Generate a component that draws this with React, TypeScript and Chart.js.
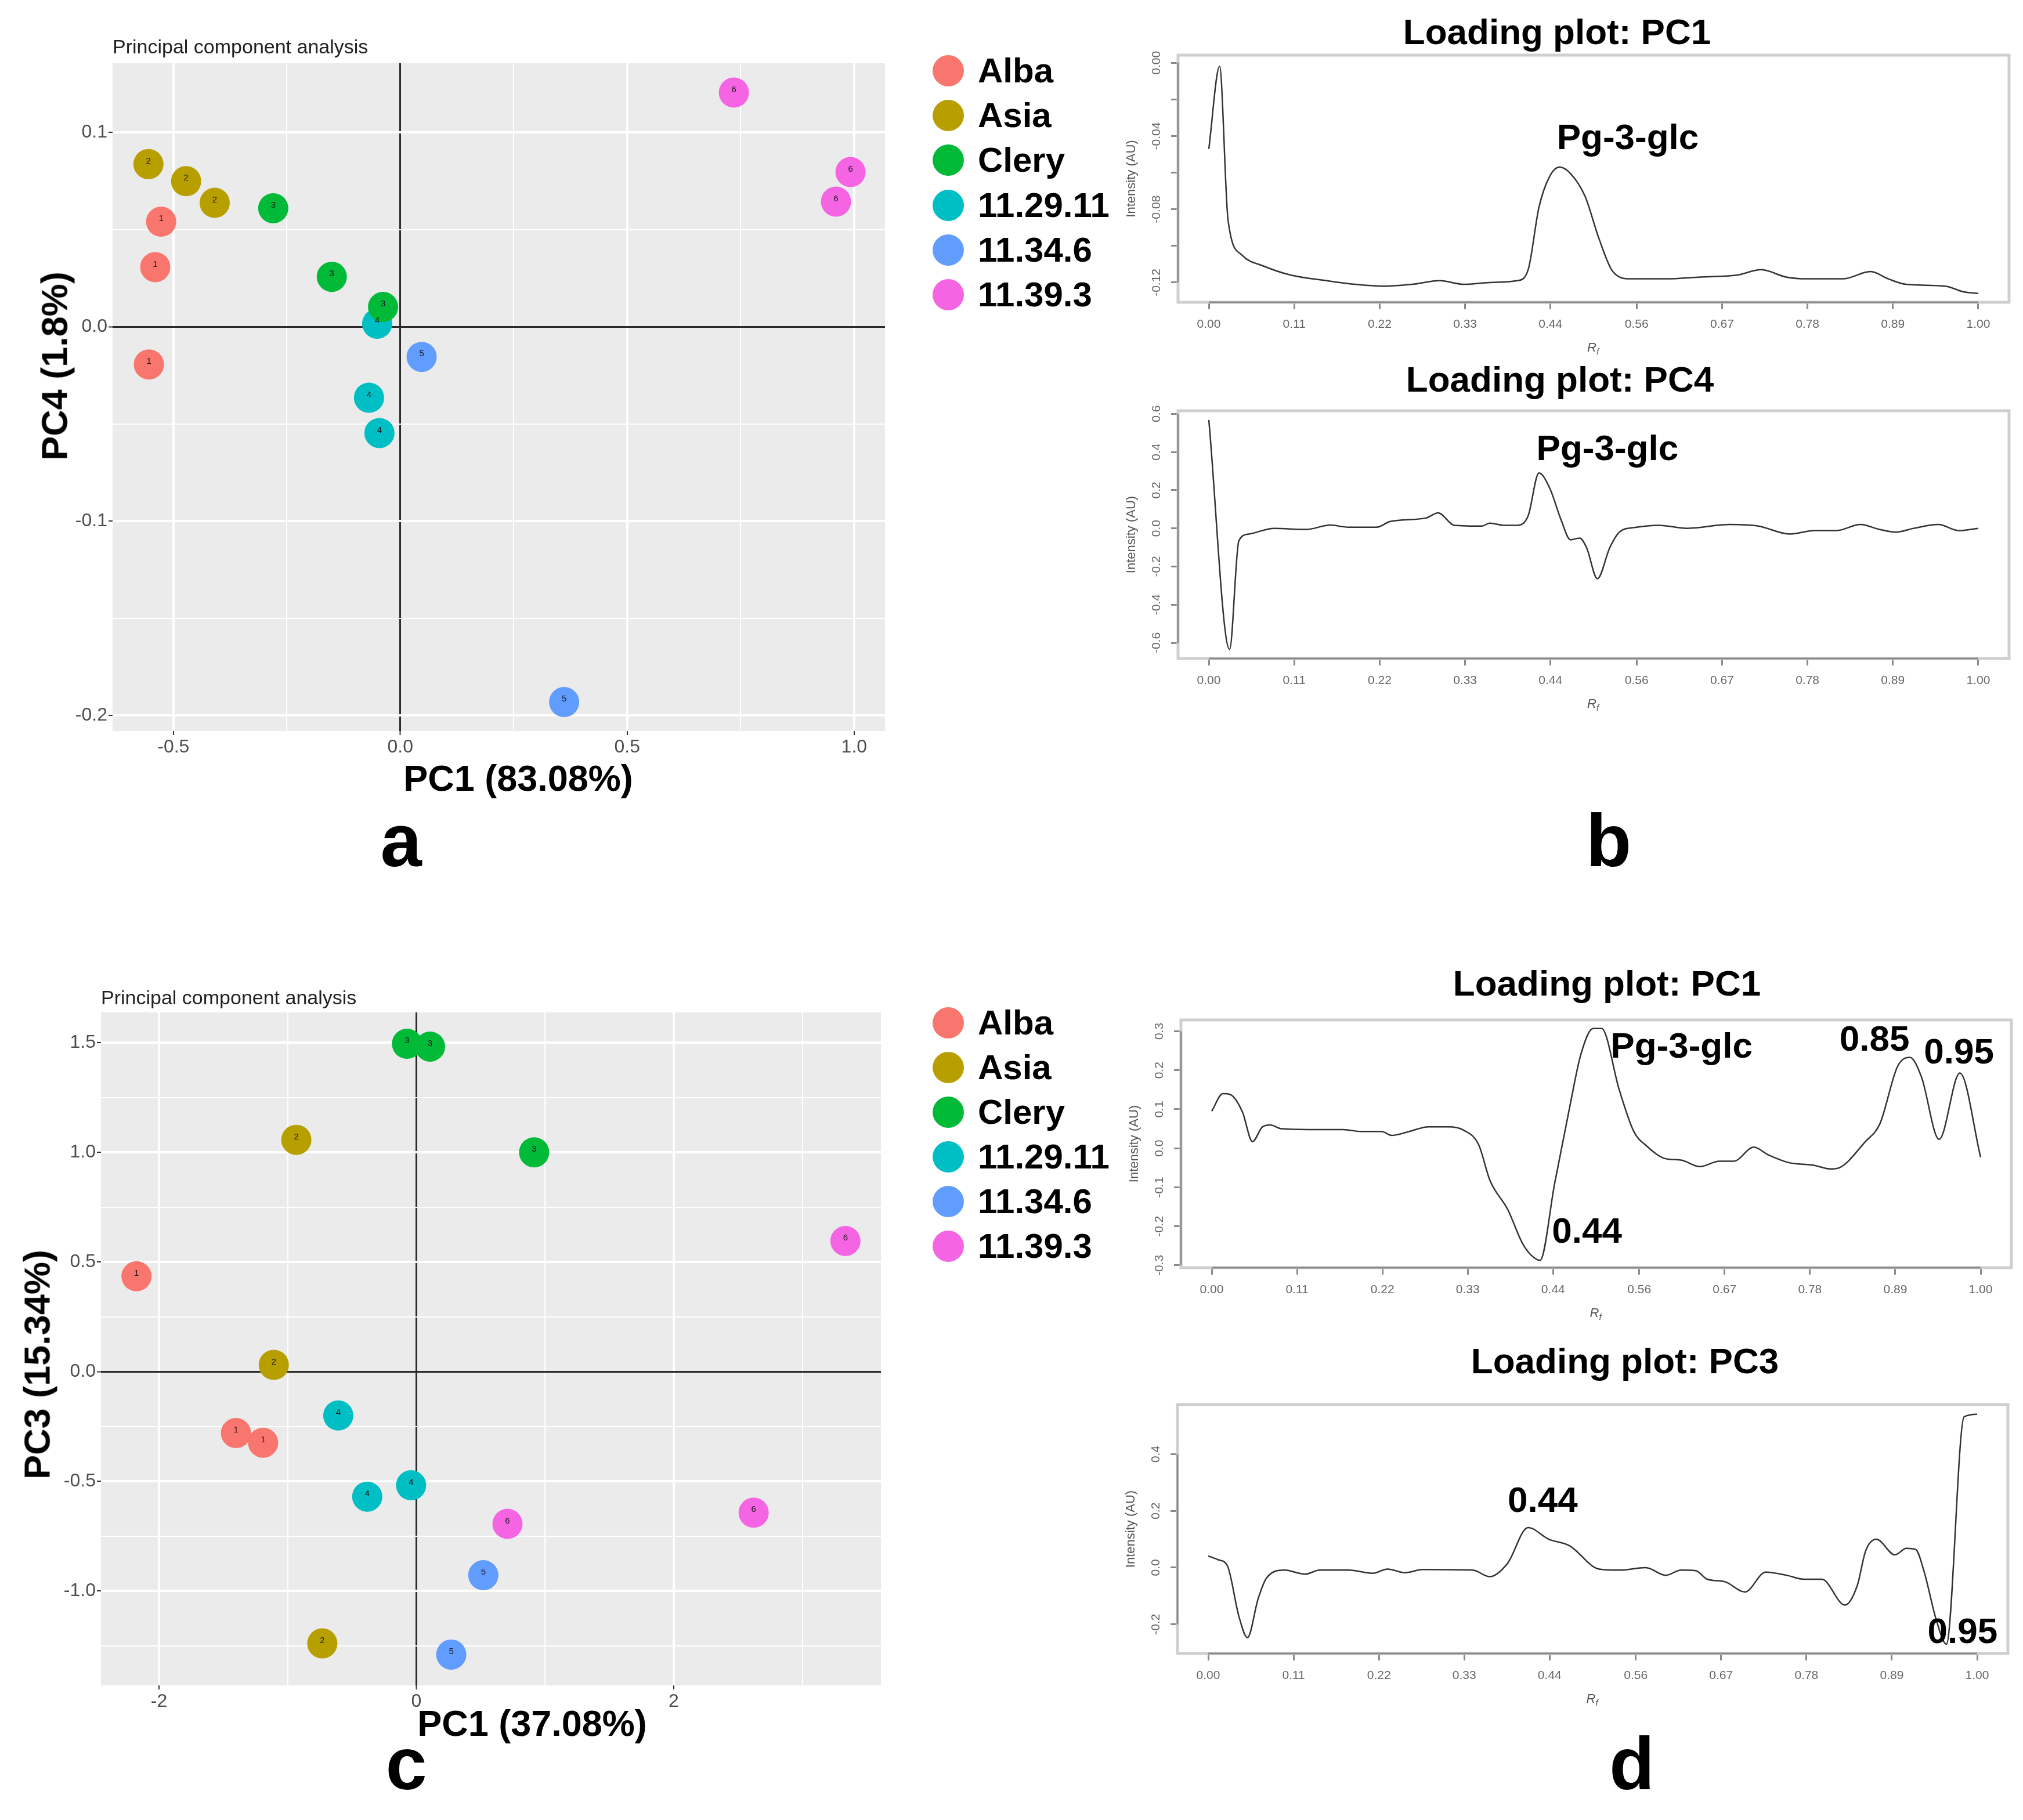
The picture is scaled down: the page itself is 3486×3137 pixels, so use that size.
import React, { useEffect, useRef } from 'react';
import { Chart, registerables } from 'chart.js';
Chart.register(...registerables);

const FONT = "'Liberation Sans', Arial, Helvetica, sans-serif";

// ---------- groups ----------
const groupNames = ['Alba', 'Asia', 'Clery', '11.29.11', '11.34.6', '11.39.3'];
const groupColors = ['#F8766D', '#B79F00', '#00BA38', '#00BFC4', '#619CFF', '#F564E3'];
const groupIds = ['1', '2', '3', '4', '5', '6'];

// ---------- panel a: PCA scores PC1 vs PC4 ----------
const scoresA_PC1 = [
  [-0.540, -0.527, -0.554],
  [-0.555, -0.472, -0.409],
  [-0.280, -0.151, -0.038],
  [-0.051, -0.069, -0.046],
  [0.047, 0.361],
  [0.735, 0.992, 0.960],
];
const scoresA_PC4 = [
  [0.0307, 0.0541, -0.0194],
  [0.0837, 0.0749, 0.0638],
  [0.0610, 0.0257, 0.0102],
  [0.0016, -0.0365, -0.0547],
  [-0.0155, -0.1931],
  [0.1205, 0.0796, 0.0644],
];
const aXMajor = [-0.5, 0.0, 0.5, 1.0];
const aXMinor = [-0.25, 0.25, 0.75];
const aXLabels = ['-0.5', '0.0', '0.5', '1.0'];
const aYMajor = [-0.2, -0.1, 0.0, 0.1];
const aYMinor = [-0.15, -0.05, 0.05];
const aYLabels = ['-0.2', '-0.1', '0.0', '0.1'];
const aXRange = [-0.634, 1.068];
const aYRange = [-0.208, 0.1356];

// ---------- panel c: PCA scores PC1 vs PC3 ----------
const scoresC_PC1 = [
  [-2.175, -1.402, -1.191],
  [-0.933, -1.108, -0.731],
  [-0.073, 0.106, 0.915],
  [-0.607, -0.382, -0.041],
  [0.520, 0.271],
  [3.334, 2.621, 0.708],
];
const scoresC_PC3 = [
  [0.435, -0.280, -0.324],
  [1.057, 0.031, -1.239],
  [1.495, 1.482, 1.000],
  [-0.200, -0.570, -0.518],
  [-0.928, -1.290],
  [0.596, -0.643, -0.694],
];
const cXMajor = [-2, 0, 2];
const cXMinor = [-1, 1, 3];
const cXLabels = ['-2', '0', '2'];
const cYMajor = [-1.0, -0.5, 0.0, 0.5, 1.0, 1.5];
const cYMinor = [-1.25, -0.75, -0.25, 0.25, 0.75, 1.25];
const cYLabels = ['-1.0', '-0.5', '0.0', '0.5', '1.0', '1.5'];
const cXRange = [-2.451, 3.610];
const cYRange = [-1.4305, 1.638];

// ---------- loading plots (x = Rf) ----------
const rfTicks = [0, 0.111, 0.222, 0.333, 0.444, 0.556, 0.667, 0.778, 0.889, 1.0];
const rfTickLabels = ['0.00', '0.11', '0.22', '0.33', '0.44', '0.56', '0.67', '0.78', '0.89', '1.00'];

// b, top: loading PC1
const loadB1X = [0, 0.014, 0.025, 0.043, 0.071, 0.107, 0.153, 0.19, 0.227, 0.264, 0.30, 0.332, 0.365, 0.401, 0.415, 0.429, 0.443, 0.456, 0.47, 0.489, 0.507, 0.525, 0.548, 0.594, 0.64, 0.686, 0.718, 0.75, 0.778, 0.824, 0.86, 0.883, 0.906, 0.957, 0.98, 1.0];
const loadB1Y = [-0.047, -0.002, -0.086, -0.105, -0.111, -0.116, -0.119, -0.121, -0.122, -0.121, -0.119, -0.121, -0.120, -0.119, -0.113, -0.079, -0.062, -0.057, -0.0605, -0.073, -0.096, -0.114, -0.118, -0.118, -0.117, -0.116, -0.113, -0.117, -0.118, -0.118, -0.114, -0.118, -0.121, -0.122, -0.125, -0.126];
const b1YTicks = [-0.12, -0.10, -0.08, -0.06, -0.04, -0.02, 0.0];
const b1YLabels = ['-0.12', '', '-0.08', '', '-0.04', '', '0.00'];
const b1YRange = [-0.1308, 0.0042];

// b, bottom: loading PC4
const loadB2X = [0, 0.027, 0.039, 0.052, 0.085, 0.126, 0.158, 0.181, 0.218, 0.236, 0.282, 0.298, 0.319, 0.355, 0.365, 0.383, 0.401, 0.415, 0.429, 0.443, 0.458, 0.470, 0.482, 0.491, 0.505, 0.521, 0.534, 0.553, 0.585, 0.622, 0.677, 0.714, 0.755, 0.787, 0.815, 0.847, 0.870, 0.893, 0.916, 0.948, 0.975, 1.0];
const loadB2Y = [0.568, -0.634, -0.066, -0.030, 0.0, -0.006, 0.017, 0.006, 0.006, 0.036, 0.054, 0.081, 0.016, 0.012, 0.027, 0.016, 0.016, 0.066, 0.29, 0.211, 0.042, -0.06, -0.051, -0.102, -0.264, -0.102, -0.018, 0.004, 0.016, 0.0, 0.02, 0.012, -0.03, -0.012, -0.012, 0.02, -0.004, -0.02, 0.0, 0.02, -0.012, 0.0];
const b2YTicks = [-0.6, -0.4, -0.2, 0.0, 0.2, 0.4, 0.6];
const b2YLabels = ['-0.6', '-0.4', '-0.2', '0.0', '0.2', '0.4', '0.6'];
const b2YRange = [-0.682, 0.616];

// d, top: loading PC1
const loadD1X = [0, 0.0145, 0.024, 0.040, 0.053, 0.066, 0.076, 0.091, 0.125, 0.171, 0.194, 0.221, 0.234, 0.255, 0.282, 0.308, 0.327, 0.347, 0.362, 0.385, 0.404, 0.415, 0.427, 0.446, 0.465, 0.48, 0.496, 0.507, 0.53, 0.549, 0.565, 0.591, 0.61, 0.635, 0.66, 0.679, 0.705, 0.724, 0.751, 0.782, 0.805, 0.816, 0.85, 0.869, 0.892, 0.908, 0.923, 0.946, 0.973, 1.0];
const loadD1Y = [0.095, 0.14, 0.138, 0.093, 0.017, 0.055, 0.06, 0.05, 0.048, 0.048, 0.043, 0.043, 0.033, 0.042, 0.055, 0.055, 0.047, 0.01, -0.083, -0.157, -0.243, -0.273, -0.287, -0.09, 0.10, 0.24, 0.307, 0.307, 0.15, 0.043, 0.007, -0.027, -0.03, -0.047, -0.033, -0.033, 0.003, -0.017, -0.037, -0.043, -0.053, -0.05, 0.017, 0.063, 0.21, 0.233, 0.183, 0.023, 0.193, -0.023];
const d1YTicks = [-0.3, -0.2, -0.1, 0.0, 0.1, 0.2, 0.3];
const d1YLabels = ['-0.3', '-0.2', '-0.1', '0.0', '0.1', '0.2', '0.3'];
const d1YRange = [-0.306, 0.329];

// d, bottom: loading PC3
const loadD2X = [0, 0.0137, 0.025, 0.040, 0.051, 0.065, 0.076, 0.099, 0.126, 0.145, 0.183, 0.214, 0.233, 0.256, 0.279, 0.344, 0.366, 0.389, 0.416, 0.443, 0.47, 0.508, 0.534, 0.569, 0.595, 0.615, 0.634, 0.649, 0.672, 0.698, 0.725, 0.752, 0.775, 0.798, 0.828, 0.844, 0.855, 0.869, 0.893, 0.908, 0.92, 0.931, 0.947, 0.960, 0.983, 1.0];
const loadD2Y = [0.041, 0.027, 0.006, -0.173, -0.247, -0.109, -0.036, -0.009, -0.023, -0.009, -0.009, -0.02, -0.005, -0.018, -0.007, -0.009, -0.032, 0.014, 0.141, 0.10, 0.077, -0.005, -0.009, 0.0, -0.027, -0.009, -0.011, -0.041, -0.05, -0.086, -0.016, -0.027, -0.041, -0.041, -0.132, -0.064, 0.059, 0.10, 0.045, 0.068, 0.064, -0.014, -0.186, -0.27, 0.532, 0.541];
const d2YTicks = [-0.2, 0.0, 0.2, 0.4];
const d2YLabels = ['-0.2', '0.0', '0.2', '0.4'];
const d2YRange = [-0.303, 0.575];

// annotations (anchored in data units: x = Rf, y = loading)
const annB1 = [{ text: 'Pg-3-glc', x: 0.5445, y: -0.047 }];
const annB2 = [{ text: 'Pg-3-glc', x: 0.518, y: 0.358 }];
const annD1 = [
  { text: 'Pg-3-glc', x: 0.611, y: 0.2326 },
  { text: '0.85', x: 0.862, y: 0.250 },
  { text: '0.95', x: 0.9718, y: 0.217 },
  { text: '0.44', x: 0.488, y: -0.242 },
];
const annD2 = [
  { text: '0.44', x: 0.435, y: 0.196 },
  { text: '0.95', x: 0.981, y: -0.266 },
];

// ---------- helpers ----------
const near = (a: number, b: number) => Math.abs(a - b) < 1e-9;
const labelFor = (v: number, vals: number[], labels: string[]) => {
  const i = vals.findIndex((m) => near(m, v));
  return i >= 0 ? labels[i] : '';
};

function scatterConfig(s: any): any {
  const bg = {
    id: 'ggBg',
    beforeDraw(chart: any) {
      const { ctx, chartArea: a } = chart;
      ctx.save();
      ctx.fillStyle = '#EBEBEB';
      ctx.fillRect(a.left, a.top, a.right - a.left, a.bottom - a.top);
      ctx.restore();
    },
    afterDatasetsDraw(chart: any) {
      const { ctx } = chart;
      ctx.save();
      ctx.font = `15px ${FONT}`;
      ctx.fillStyle = '#1a1a1a';
      ctx.textAlign = 'center';
      ctx.textBaseline = 'middle';
      chart.data.datasets.forEach((_ds: any, di: number) => {
        chart.getDatasetMeta(di).data.forEach((el: any) => ctx.fillText(groupIds[di], el.x, el.y - 5));
      });
      ctx.restore();
    },
  };
  const axis = (major: number[], minor: number[], labels: string[], range: number[], fitKey: string, fitVal: number) => ({
    type: 'linear',
    min: range[0],
    max: range[1],
    afterBuildTicks: (sc: any) => {
      sc.ticks = [...major, ...minor].sort((p, q) => p - q).map((v) => ({ value: v }));
    },
    afterFit: (sc: any) => {
      sc[fitKey] = fitVal;
    },
    ticks: {
      autoSkip: false,
      maxRotation: 0,
      minRotation: 0,
      padding: 2,
      color: '#4D4D4D',
      font: { family: FONT, size: 32 },
      callback: (v: number) => labelFor(v, major, labels),
    },
    grid: {
      drawOnChartArea: true,
      drawTicks: true,
      tickLength: 7,
      tickWidth: 2,
      color: (c: any) => (c.tick && near(c.tick.value, 0) ? '#2b2b2b' : '#FFFFFF'),
      lineWidth: (c: any) => {
        if (!c.tick) return 2;
        if (near(c.tick.value, 0)) return 3;
        return major.some((m) => near(m, c.tick.value)) ? 4 : 2;
      },
      tickColor: (c: any) => (c.tick && major.some((m) => near(m, c.tick.value)) ? '#333333' : 'rgba(0,0,0,0)'),
    },
    border: { display: false },
  });
  return {
    type: 'scatter',
    data: {
      datasets: groupNames.map((name, i) => ({
        label: name,
        data: s.xs[i].map((x: number, j: number) => ({ x, y: s.ys[i][j] })),
        backgroundColor: groupColors[i],
        borderColor: groupColors[i],
        borderWidth: 0,
        pointRadius: 26,
        pointHoverRadius: 26,
      })),
    },
    options: {
      animation: false,
      responsive: false,
      events: [],
      layout: { padding: { top: s.padTop, right: s.padRight, left: 0, bottom: 0 } },
      plugins: { legend: { display: false }, tooltip: { enabled: false }, title: { display: false } },
      scales: {
        x: axis(s.xMajor, s.xMinor, s.xLabels, s.xRange, 'height', s.xAxisHeight),
        y: axis(s.yMajor, s.yMinor, s.yLabels, s.yRange, 'width', s.yAxisWidth),
      },
    },
    plugins: [bg],
  };
}

function loadingConfig(s: any): any {
  const rPlot = {
    id: 'rPlot',
    beforeDatasetsDraw(chart: any) {
      const { ctx, chartArea: a, scales } = chart;
      const x = scales.x;
      const y = scales.y;
      ctx.save();
      ctx.strokeStyle = '#cfcfcf';
      ctx.lineWidth = 5;
      ctx.strokeRect(a.left, a.top, a.right - a.left, a.bottom - a.top);
      ctx.strokeStyle = '#8a8a8a';
      ctx.lineWidth = 3;
      ctx.beginPath();
      ctx.moveTo(a.left, y.getPixelForValue(s.yTicks[0]));
      ctx.lineTo(a.left, y.getPixelForValue(s.yTicks[s.yTicks.length - 1]));
      ctx.moveTo(x.getPixelForValue(rfTicks[0]), a.bottom);
      ctx.lineTo(x.getPixelForValue(rfTicks[rfTicks.length - 1]), a.bottom);
      ctx.stroke();
      ctx.restore();
    },
    afterDatasetsDraw(chart: any) {
      const { ctx, chartArea: a, scales } = chart;
      const x = scales.x;
      const y = scales.y;
      ctx.save();
      ctx.fillStyle = '#000';
      ctx.font = `bold 62px ${FONT}`;
      ctx.textAlign = 'center';
      ctx.textBaseline = 'alphabetic';
      s.annotations.forEach((an: any) => ctx.fillText(an.text, x.getPixelForValue(an.x), y.getPixelForValue(an.y)));
      // rotated y tick labels
      ctx.fillStyle = '#666';
      ctx.font = `21px ${FONT}`;
      ctx.textBaseline = 'middle';
      s.yTicks.forEach((v: number, i: number) => {
        const t = s.yLabels[i];
        if (!t) return;
        ctx.save();
        ctx.translate(a.left - 37, y.getPixelForValue(v));
        ctx.rotate(-Math.PI / 2);
        ctx.fillText(t, 0, 0);
        ctx.restore();
      });
      // y axis title
      ctx.save();
      ctx.fillStyle = '#555';
      ctx.font = `22px ${FONT}`;
      ctx.translate(a.left - 80, (a.top + a.bottom) / 2);
      ctx.rotate(-Math.PI / 2);
      ctx.fillText('Intensity (AU)', 0, 0);
      ctx.restore();
      // x axis title R_f
      const cx = (a.left + a.right) / 2;
      const by = a.bottom + 85;
      ctx.fillStyle = '#555';
      ctx.textBaseline = 'alphabetic';
      ctx.textAlign = 'left';
      ctx.font = `italic 22px ${FONT}`;
      const rw = ctx.measureText('R').width;
      ctx.fillText('R', cx - rw / 2 - 3, by);
      ctx.font = `italic 15px ${FONT}`;
      ctx.fillText('f', cx + rw / 2 - 3, by + 5);
      ctx.restore();
    },
  };
  return {
    type: 'scatter',
    data: {
      datasets: [
        {
          data: s.xs.map((xv: number, i: number) => ({ x: xv, y: s.ys[i] })),
          showLine: true,
          borderColor: '#333333',
          borderWidth: 2.5,
          pointRadius: 0,
          pointHoverRadius: 0,
          cubicInterpolationMode: 'monotone',
          fill: false,
        },
      ],
    },
    options: {
      animation: false,
      responsive: false,
      events: [],
      layout: { padding: { top: s.padTop, right: s.padRight, left: 0, bottom: 0 } },
      plugins: { legend: { display: false }, tooltip: { enabled: false } },
      scales: {
        x: {
          type: 'linear',
          min: -0.04,
          max: 1.04,
          afterBuildTicks: (sc: any) => {
            sc.ticks = rfTicks.map((v) => ({ value: v }));
          },
          afterFit: (sc: any) => {
            sc.height = s.xAxisHeight;
          },
          ticks: {
            autoSkip: false,
            maxRotation: 0,
            minRotation: 0,
            padding: 14,
            color: '#666',
            font: { family: FONT, size: 21 },
            callback: (v: number) => labelFor(v, rfTicks, rfTickLabels),
          },
          grid: { drawOnChartArea: false, drawTicks: true, tickLength: 12, tickWidth: 3, tickColor: '#8a8a8a', color: '#8a8a8a' },
          border: { display: false },
        },
        y: {
          type: 'linear',
          min: s.yRange[0],
          max: s.yRange[1],
          afterBuildTicks: (sc: any) => {
            sc.ticks = s.yTicks.map((v: number) => ({ value: v }));
          },
          afterFit: (sc: any) => {
            sc.width = s.yAxisWidth;
          },
          ticks: { display: false },
          grid: { drawOnChartArea: false, drawTicks: true, tickLength: 12, tickWidth: 3, tickColor: '#8a8a8a', color: '#8a8a8a' },
          border: { display: false },
        },
      },
    },
    plugins: [rPlot],
  };
}

function ChartCanvas(props: { left: number; top: number; width: number; height: number; build: () => any }) {
  const ref = useRef<HTMLCanvasElement | null>(null);
  useEffect(() => {
    const chart = new Chart(ref.current as HTMLCanvasElement, props.build());
    return () => chart.destroy();
  }, []);
  return (
    <canvas
      ref={ref}
      width={props.width}
      height={props.height}
      style={{ position: 'absolute', left: props.left, top: props.top, width: props.width, height: props.height }}
    />
  );
}

function Txt(props: { x: number; y: number; text: string; size: number; bold?: boolean; rotate?: boolean; left?: boolean; color?: string }) {
  const tr = props.left ? 'translate(0,-50%)' : 'translate(-50%,-50%)' + (props.rotate ? ' rotate(-90deg)' : '');
  return (
    <div
      style={{
        position: 'absolute',
        left: props.x,
        top: props.y,
        transform: tr,
        fontSize: props.size,
        fontWeight: props.bold ? 'bold' : 'normal',
        lineHeight: 1,
        whiteSpace: 'nowrap',
        color: props.color || '#000',
        fontFamily: FONT,
      }}
    >
      {props.text}
    </div>
  );
}

function Legend(props: { top: number; step: number }) {
  return (
    <>
      {groupNames.map((n, i) => (
        <React.Fragment key={n}>
          <div
            style={{
              position: 'absolute',
              left: 1634 - 27,
              top: props.top + i * props.step - 27,
              width: 54,
              height: 54,
              borderRadius: '50%',
              background: groupColors[i],
            }}
          />
          <Txt x={1685} y={props.top + i * props.step} text={n} size={60} bold left />
        </React.Fragment>
      ))}
    </>
  );
}

export default function App() {
  return (
    <div style={{ position: 'absolute', left: 0, top: 0, width: 3486, height: 3137, background: '#fff', overflow: 'hidden' }}>
      <ChartCanvas
        left={0}
        top={0}
        width={1560}
        height={1320}
        build={() =>
          scatterConfig({
            xs: scoresA_PC1, ys: scoresA_PC4,
            xMajor: aXMajor, xMinor: aXMinor, xLabels: aXLabels, xRange: aXRange,
            yMajor: aYMajor, yMinor: aYMinor, yLabels: aYLabels, yRange: aYRange,
            padTop: 109, padRight: 35, yAxisWidth: 194, xAxisHeight: 60,
          })
        }
      />
      <ChartCanvas
        left={0}
        top={1640}
        width={1560}
        height={1320}
        build={() =>
          scatterConfig({
            xs: scoresC_PC1, ys: scoresC_PC3,
            xMajor: cXMajor, xMinor: cXMinor, xLabels: cXLabels, xRange: cXRange,
            yMajor: cYMajor, yMinor: cYMinor, yLabels: cYLabels, yRange: cYRange,
            padTop: 105, padRight: 42, yAxisWidth: 174, xAxisHeight: 55,
          })
        }
      />
      <ChartCanvas left={1900} top={0} width={1586} height={640}
        build={() => loadingConfig({ xs: loadB1X, ys: loadB1Y, yRange: b1YRange, yTicks: b1YTicks, yLabels: b1YLabels, annotations: annB1, padTop: 95, padRight: 24, yAxisWidth: 130, xAxisHeight: 119 })} />
      <ChartCanvas left={1900} top={640} width={1586} height={660}
        build={() => loadingConfig({ xs: loadB2X, ys: loadB2Y, yRange: b2YRange, yTicks: b2YTicks, yLabels: b2YLabels, annotations: annB2, padTop: 68, padRight: 24, yAxisWidth: 130, xAxisHeight: 165 })} />
      <ChartCanvas left={1900} top={1600} width={1586} height={700}
        build={() => loadingConfig({ xs: loadD1X, ys: loadD1Y, yRange: d1YRange, yTicks: d1YTicks, yLabels: d1YLabels, annotations: annD1, padTop: 158, padRight: 20, yAxisWidth: 135, xAxisHeight: 115 })} />
      <ChartCanvas left={1900} top={2300} width={1586} height={700}
        build={() => loadingConfig({ xs: loadD2X, ys: loadD2Y, yRange: d2YRange, yTicks: d2YTicks, yLabels: d2YLabels, annotations: annD2, padTop: 121, padRight: 26, yAxisWidth: 129, xAxisHeight: 150 })} />

      {/* scatter titles and axis titles */}
      <Txt x={194} y={80} text="Principal component analysis" size={34} left color="#222" />
      <Txt x={174} y={1719} text="Principal component analysis" size={34} left color="#222" />
      <Txt x={94} y={631} text="PC4 (1.8%)" size={63} bold rotate />
      <Txt x={893} y={1341} text="PC1 (83.08%)" size={63} bold />
      <Txt x={64} y={2352} text="PC3 (15.34%)" size={63} bold rotate />
      <Txt x={917} y={2970} text="PC1 (37.08%)" size={63} bold />

      {/* loading plot titles */}
      <Txt x={2683} y={55} text="Loading plot: PC1" size={62} bold />
      <Txt x={2688} y={654} text="Loading plot: PC4" size={62} bold />
      <Txt x={2769} y={1695} text="Loading plot: PC1" size={62} bold />
      <Txt x={2800} y={2346} text="Loading plot: PC3" size={62} bold />

      {/* legends */}
      <Legend top={122} step={77.2} />
      <Legend top={1763} step={77} />

      {/* panel letters */}
      <Txt x={691} y={1449} text="a" size={128} bold />
      <Txt x={2772} y={1449} text="b" size={128} bold />
      <Txt x={700} y={3040} text="c" size={128} bold />
      <Txt x={2812} y={3040} text="d" size={128} bold />
    </div>
  );
}
